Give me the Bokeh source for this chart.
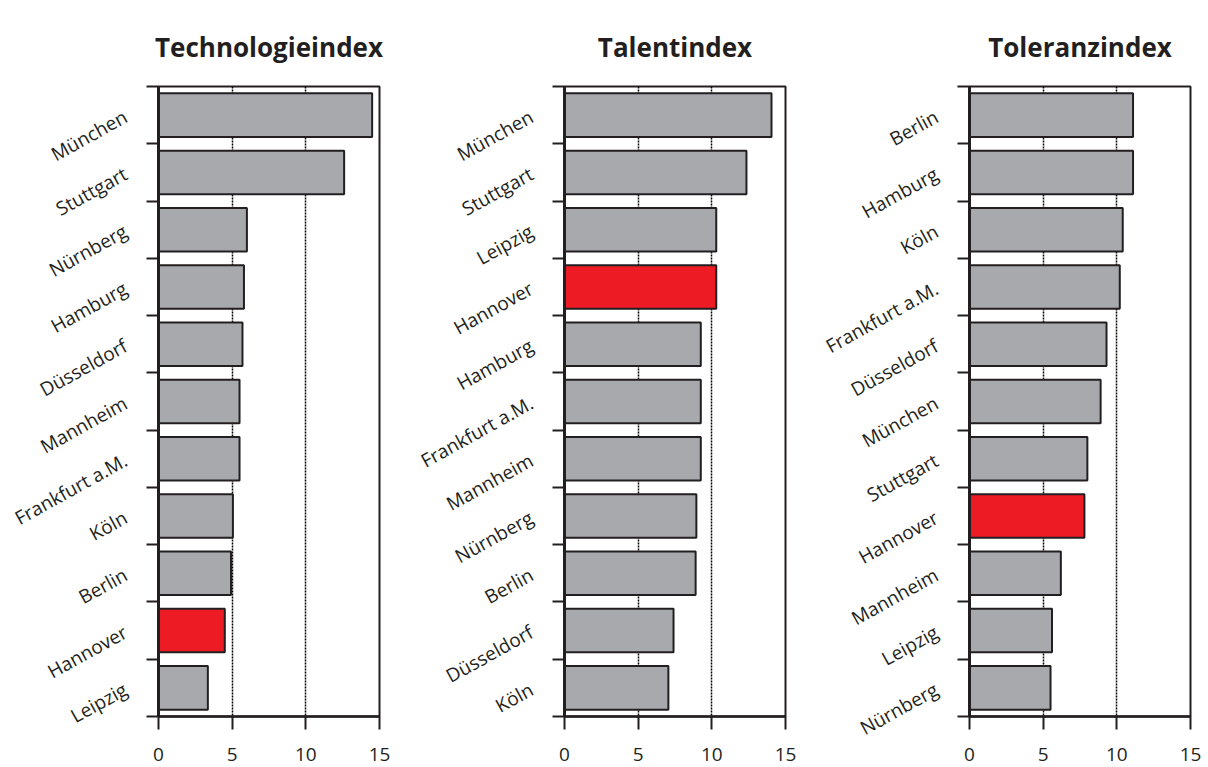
import math
from bokeh.plotting import figure
from bokeh.layouts import row
from bokeh.models import Range1d, FixedTicker, LinearAxis, ColumnDataSource
from bokeh.embed import file_html
from bokeh.resources import INLINE

# ---- data ----
tech_title = "Technologieindex"
tech_cities = ["München", "Stuttgart", "Nürnberg", "Hamburg", "Düsseldorf", "Mannheim",
               "Frankfurt a.M.", "Köln", "Berlin", "Hannover", "Leipzig"]
tech_values = [14.5, 12.6, 6.0, 5.8, 5.7, 5.5, 5.5, 5.05, 4.92, 4.5, 3.35]

talent_title = "Talentindex"
talent_cities = ["München", "Stuttgart", "Leipzig", "Hannover", "Hamburg", "Frankfurt a.M.",
                 "Mannheim", "Nürnberg", "Berlin", "Düsseldorf", "Köln"]
talent_values = [14.05, 12.35, 10.3, 10.3, 9.25, 9.25, 9.25, 8.95, 8.9, 7.4, 7.05]

toler_title = "Toleranzindex"
toler_cities = ["Berlin", "Hamburg", "Köln", "Frankfurt a.M.", "Düsseldorf", "München",
                "Stuttgart", "Hannover", "Mannheim", "Leipzig", "Nürnberg"]
toler_values = [11.1, 11.1, 10.4, 10.2, 9.3, 8.9, 8.0, 7.8, 6.2, 5.6, 5.5]

highlight = "Hannover"
x_ticks = [0, 5, 10, 15]
grid_ticks = [5, 10]

GRAY = "#a7a9ac"
RED = "#ed1c24"
INK = "#231f20"
FONT = "Open Sans"


def panel(title, cities, values, border_left, border_right):
    n = len(cities)
    p = figure(frame_width=221, frame_height=630,
               min_border_left=border_left, min_border_right=border_right,
               min_border_top=86, min_border_bottom=49,
               x_range=Range1d(0, 15), y_range=Range1d(n, 0),
               output_backend="svg", toolbar_location=None, tools="")
    p.title.text = title
    p.title.align = "center"
    p.title.text_font = FONT
    p.title.text_font_size = "26px"
    p.title.text_font_style = "bold"
    p.title.text_color = INK
    p.title.standoff = 43

    ypos = [i + 0.5 for i in range(n)]
    colors = [RED if c == highlight else GRAY for c in cities]
    src = ColumnDataSource(dict(y=ypos, right=values, city=cities, color=colors))
    p.hbar(y="y", left=0, right="right", height=0.76, fill_color="color",
           line_color=INK, line_width=2, source=src)

    # grid
    p.ygrid.visible = False
    p.xgrid.ticker = FixedTicker(ticks=grid_ticks)
    p.xgrid.grid_line_color = "black"
    p.xgrid.grid_line_dash = "2 1"
    p.xgrid.grid_line_width = 1.5

    # x axis
    xa = p.xaxis[0]
    xa.ticker = FixedTicker(ticks=x_ticks)
    xa.axis_line_color = INK
    xa.axis_line_width = 2.5
    xa.major_tick_line_color = INK
    xa.major_tick_line_width = 2
    xa.major_tick_out = 13
    xa.major_tick_in = 0
    xa.minor_tick_line_color = None
    xa.major_label_text_font = FONT
    xa.major_label_text_font_size = "19px"
    xa.major_label_text_color = INK
    xa.major_label_standoff = 18

    # y axis: tick marks at category boundaries
    ya = p.yaxis[0]
    ya.ticker = FixedTicker(ticks=list(range(n + 1)))
    ya.axis_line_color = INK
    ya.axis_line_width = 3
    ya.major_tick_line_color = INK
    ya.major_tick_line_width = 2
    ya.major_tick_out = 12
    ya.major_tick_in = 0
    ya.minor_tick_line_color = None
    ya.major_label_standoff = 0
    ya.major_label_overrides = {k: "" for k in range(n + 1)}

    # outer axis carrying the rotated city names (at category centres)
    la = LinearAxis(ticker=FixedTicker(ticks=ypos),
                    major_label_overrides={t: c for t, c in zip(ypos, cities)},
                    axis_line_color=None, major_tick_line_color=None,
                    minor_tick_line_color=None, major_tick_out=0, major_tick_in=0,
                    major_label_standoff=21,
                    major_label_orientation=math.radians(29),
                    major_label_text_font=FONT, major_label_text_font_size="19px",
                    major_label_text_color=INK)
    p.add_layout(la, "left")

    p.outline_line_color = INK
    p.outline_line_width = 2
    p.background_fill_color = "white"
    p.border_fill_color = "white"
    return p


p1 = panel(tech_title, tech_cities, tech_values, 158, 27)
p2 = panel(talent_title, talent_cities, talent_values, 158, 26)
p3 = panel(toler_title, toler_cities, toler_values, 157, 12)

layout = row(p1, p2, p3)
open("out.html", "w").write(file_html(layout, INLINE))
